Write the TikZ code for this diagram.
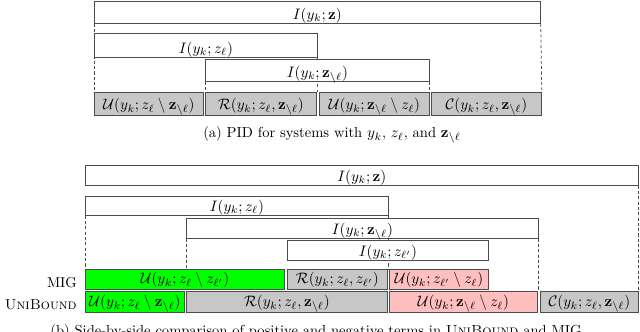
\documentclass[tikz,border=0pt]{standalone}
\usetikzlibrary{backgrounds}
\newcommand{\pxl}{0.66pt}
\newcommand{\zr}{\mathbf{z}_{\setminus\ell}}
\tikzset{
  term/.style 2 args={draw=black!70, line width=0.5pt, fill=white, inner sep=0pt,
    anchor=north west, minimum width=#1*\pxl, minimum height=#2*\pxl,
    text depth=2.5pt, text height=#2*\pxl-2.5pt},
  cell/.style 2 args={term={#1}{#2}, text depth=3.6pt, text height=#2*\pxl-3.6pt},
  shared/.style={fill=black!22},
  unique/.style={fill=green},
  other/.style={fill=red!25},
  guide/.style={draw=black!70, line width=0.5pt, dash pattern=on 2pt off 1.5pt},
  rowlabel/.style={anchor=base east, inner sep=0pt, font=\fontsize{9.5pt}{11pt}\selectfont},
  caption/.style={font=\fontsize{9.6pt}{11pt}\selectfont},
}
\begin{document}
\begin{tikzpicture}[x=\pxl, y=-\pxl]
        \path[use as bounding box, clip] (0,0) rectangle (640,332);

        % (a) mutual information bars
        \node[term={446}{22}] (Ia) at (94,1) {$I(y_k;\mathbf{z})$};
        \node[term={223}{24}] (Ila) at (94,33) {$I(y_k;z_\ell)$};
        \node[term={224}{22}] (Ira) at (205,59) {$I(y_k;\zr)$};

        % (a) decomposition row
        \foreach \x/\w/\n/\t in {94/109/Ua/{\mathcal{U}(y_k;z_\ell\setminus\zr)},
            205/111/Ra/{\mathcal{R}(y_k;z_\ell,\zr)},
            319/110/Va/{\mathcal{U}(y_k;\zr\setminus z_\ell)},
            431/110/Ca/{\mathcal{C}(y_k;z_\ell,\zr)}} {
            \node[cell={\w}{23}, shared] (\n) at (\x,92) {$\t$};
        }
        \node[caption] (capa) at (332,135) {(a) PID for systems with $y_k$, $z_\ell$, and $\zr$};

        % (b) mutual information bars
        \node[term={553}{20}] (Ib) at (85,165) {$I(y_k;\mathbf{z})$};
        \node[term={303}{19}] (Ilb) at (85,196) {$I(y_k;z_\ell)$};
        \node[term={352}{20}] (Irb) at (186,218) {$I(y_k;\zr)$};
        \node[term={201}{20}] (Ipb) at (287,239.5) {$I(y_k;z_{\ell'})$};

        % (b) MIG row
        \node[rowlabel] (mig) at (77,287) {MIG};
        \node[cell={199}{20}, unique] (Um) at (85,269) {$\mathcal{U}(y_k;z_\ell\setminus z_{\ell'})$};
        \node[cell={100}{20}, shared] (Rm) at (287,269) {$\mathcal{R}(y_k;z_\ell,z_{\ell'})$};
        \node[cell={99}{20}, other] (Vm) at (389,269) {$\mathcal{U}(y_k;z_{\ell'}\setminus z_\ell)$};

        % (b) UniBound row
        \node[rowlabel] (unib) at (77,309) {\textsc{UniBound}};
        \node[cell={99}{21}, unique] (Uu) at (85,291) {$\mathcal{U}(y_k;z_\ell\setminus\zr)$};
        \node[cell={201}{21}, shared] (Ru) at (186,291) {$\mathcal{R}(y_k;z_\ell,\zr)$};
        \node[cell={148}{21}, other] (Vu) at (389,291) {$\mathcal{U}(y_k;\zr\setminus z_\ell)$};
        \node[cell={98}{21}, shared] (Cu) at (540,291) {$\mathcal{C}(y_k;z_\ell,\zr)$};
        \node[caption, anchor=base] (capb) at (316,335) {(b) Side-by-side comparison of positive and negative terms in \textsc{UniBound} and MIG};

        % Draw dashed guides behind the bars
        \begin{pgfonlayer}{background}
            \draw[guide] (Ia.south west) -- (Ua.north west);
            \draw[guide] (Ia.south east) -- (Ca.north east);
            \draw[guide] (Ira.south west) -- (Ra.north west);
            \draw[guide] (Ila.south east) -- (Ila.south east |- Ra.north);
            \draw[guide] (Ira.south east) -- (Ira.south east |- Ca.north);
            \draw[guide] (Ilb.south west) -- (Um.north west);
            \draw[guide] (Irb.south west) -- (Irb.south west |- Um.north);
            \draw[guide] (Ilb.south east) -- (Ilb.south east |- Rm.north);
            \draw[guide] (Irb.south east) -- (Irb.south east |- Cu.north);
            \draw[guide] (Ib.south east) -- (Cu.north east);
        \end{pgfonlayer}
    \end{tikzpicture}
\end{document}
